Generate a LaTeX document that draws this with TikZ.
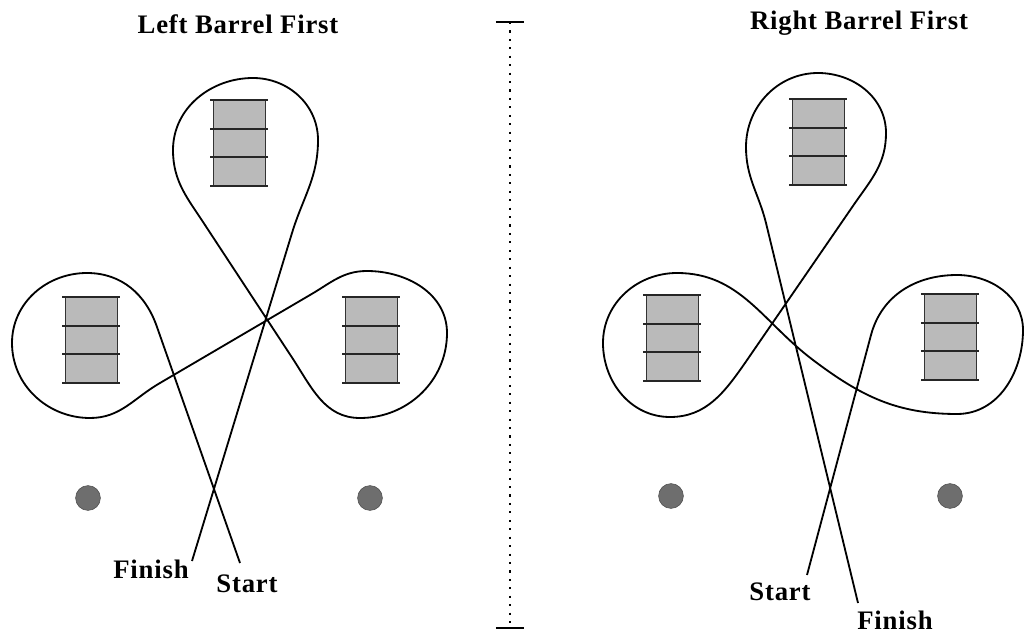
\documentclass[tikz,border=0pt]{standalone}
\usepackage{fontspec}
\setmainfont{Liberation Serif}
\begin{document}
\begin{tikzpicture}[x=0.025cm, y=0.025cm,
    course/.style={line width=1.3pt, line join=round},
    barrel/.style={draw=black!80, line width=0.5pt, fill=black!27, minimum width=1.3cm, minimum height=2.15cm, inner sep=0pt},
    hoop/.style={line width=1.2pt, black!85},
    marker/.style={circle, fill=black!57, draw=black!70, minimum size=0.62cm, inner sep=0pt},
    txt/.style={font=\bfseries\fontsize{19}{21}\selectfont\addfontfeatures{LetterSpace=3}, inner sep=0pt},
    divider/.style={line width=1.6pt, dash pattern=on 1.5pt off 4.5pt}]
    \useasboundingbox (0,0) rectangle (1026,633);

    % Titles
    \node[txt] (titleL) at (238,609) {Left Barrel First};
    \node[txt] (titleR) at (859,610) {Right Barrel First};

    % Divider
    \coordinate (dtop) at (510,611);
    \coordinate (dbot) at (510,5);
    \draw[divider] (dtop) -- (dbot);
    \draw[line width=1pt] ([xshift=-10]dtop) -- ([xshift=10]dtop);
    \draw[line width=1pt] ([xshift=-10]dbot) -- ([xshift=10]dbot);

    % Barrels
    \foreach \name/\bx/\by in {topL/239/490, leftL/91/293, rightL/371/293,
                               topR/818/491, leftR/672/295, rightR/950/296}{
        \node[barrel] (\name) at (\bx,\by) {};
        \foreach \dy in {43,14,-14,-43}
            \draw[hoop] ({\bx-29},{\by+\dy}) -- ({\bx+29},{\by+\dy});
    }

    % Markers
    \node[marker] (markLa) at (88,135) {};
    \node[marker] (markLb) at (370,135) {};
    \node[marker] (markRa) at (671,137) {};
    \node[marker] (markRb) at (950,137) {};

    % Define course points, left barrel first
    \coordinate (startL) at (240,70);
    \coordinate (finishL) at (192,72);
    \coordinate (aIn) at (157,306);
    \coordinate (aTop) at (87,360);
    \coordinate (aLeft) at (12,290);
    \coordinate (aBot) at (90,215);
    \coordinate (aOut) at (160,250);
    \coordinate (bIn) at (310,338);
    \coordinate (bTop) at (367,362);
    \coordinate (bRight) at (447,300);
    \coordinate (bBot) at (360,215);
    \coordinate (bOut) at (293,274);
    \coordinate (cIn) at (205,408);
    \coordinate (cLeft) at (173,483);
    \coordinate (cTop) at (253,555);
    \coordinate (cRight) at (318,493);
    \coordinate (cOut) at (292,400);

    % Draw course, left barrel first
    \draw[course] (startL) -- (aIn)
        to[out=109,in=0] (aTop) to[out=180,in=90] (aLeft)
        to[out=-90,in=180] (aBot) to[out=0,in=210] (aOut)
        -- (bIn) to[out=30,in=180] (bTop) to[out=0,in=90] (bRight)
        to[out=-90,in=0] (bBot) to[out=180,in=-57] (bOut)
        -- (cIn) to[out=123,in=-90] (cLeft) to[out=90,in=180] (cTop)
        to[out=0,in=90] (cRight) to[out=-90,in=73] (cOut)
        -- (finishL);
    \node[txt] (finishLtext) at (151,64) {Finish};
    \node[txt] (startLtext) at (247,49) {Start};

    % Define course points, right barrel first
    \coordinate (startR) at (807,58);
    \coordinate (finishR) at (858,30);
    \coordinate (dIn) at (871,298);
    \coordinate (dTop) at (957,358);
    \coordinate (dRight) at (1023,303);
    \coordinate (dBot) at (957,219);
    \coordinate (dMid) at (813,273);
    \coordinate (eTop) at (677,360);
    \coordinate (eLeft) at (603,290);
    \coordinate (eBot) at (670,216);
    \coordinate (eOut) at (745,270);
    \coordinate (fIn) at (855,430);
    \coordinate (fRight) at (886,500);
    \coordinate (fTop) at (818,560);
    \coordinate (fLeft) at (746,486);
    \coordinate (fOut) at (766,410);

    % Draw course, right barrel first
    \draw[course] (startR) -- (dIn)
        to[out=75,in=180] (dTop) to[out=0,in=90] (dRight)
        to[out=-90,in=0] (dBot) to[out=180,in=-37] (dMid)
        to[out=143,in=0] (eTop) to[out=180,in=90] (eLeft)
        to[out=-90,in=180] (eBot) to[out=0,in=235] (eOut)
        -- (fIn) to[out=55,in=-90] (fRight) to[out=90,in=0] (fTop)
        to[out=180,in=90] (fLeft) to[out=-90,in=104] (fOut)
        -- (finishR);
    \node[txt] (startRtext) at (780,41) {Start};
    \node[txt] (finishRtext) at (895,13) {Finish};
\end{tikzpicture}
\end{document}
